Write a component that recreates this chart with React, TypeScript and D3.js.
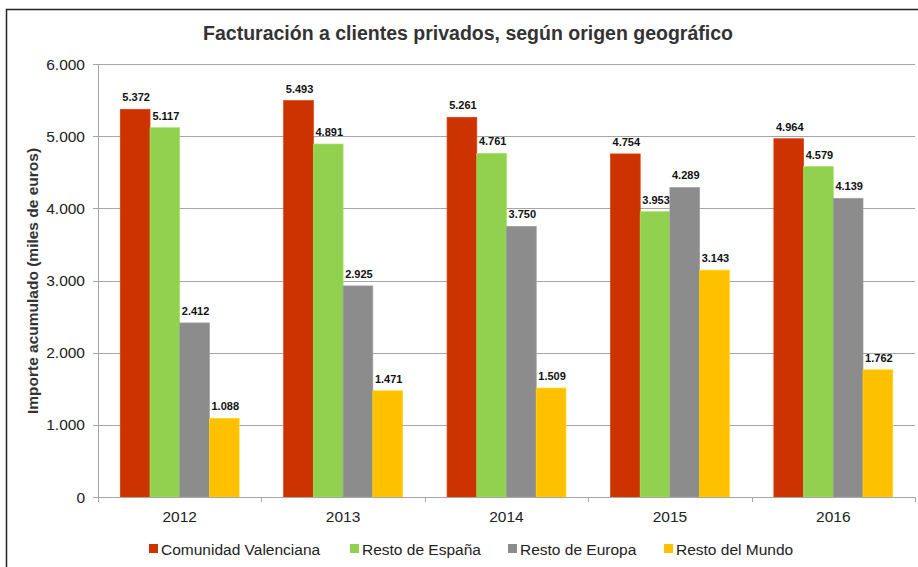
import * as d3 from "d3";

const years = ["2012", "2013", "2014", "2015", "2016"];
const seriesNames = [
  "Comunidad Valenciana",
  "Resto de España",
  "Resto de Europa",
  "Resto del Mundo",
];
const comunidadValenciana = [5372, 5493, 5261, 4754, 4964];
const restoEspana = [5117, 4891, 4761, 3953, 4579];
const restoEuropa = [2412, 2925, 3750, 4289, 4139];
const restoMundo = [1088, 1471, 1509, 3143, 1762];
const yTicks = [0, 1000, 2000, 3000, 4000, 5000, 6000];

const colors = ["#CC3300", "#92D050", "#8C8C8C", "#FFC000"];
const series = [comunidadValenciana, restoEspana, restoEuropa, restoMundo];

const fmt = (v: number) => d3.format(",")(v).replace(/,/g, ".");

const App = () => {
  const width = 918;
  const height = 567;
  const left = 98;
  const right = 915;
  const top = 64;
  const bottom = 497;

  const x = d3.scaleBand<string>().domain(years).range([left, right]).paddingInner(0).paddingOuter(0);
  const inner = d3
    .scaleBand<number>()
    .domain(d3.range(series.length))
    .range([0, x.bandwidth()])
    .paddingOuter(0.75)
    .paddingInner(0);
  const y = d3.scaleLinear().domain([0, 6000]).range([bottom, top]);

  const font = "'Liberation Sans', Arial, sans-serif";
  const legendX = [149, 350, 508, 664];

  return (
    <svg
      width={width}
      height={height}
      style={{ position: "absolute", left: 0, top: 0, fontFamily: font }}
    >
      <rect x={0} y={0} width={width} height={height} fill="#fff" />
      <rect x={6.5} y={9.5} width={width + 10} height={height + 10} fill="none" stroke="#222" strokeWidth={1.5} />
      <text x={468} y={40} textAnchor="middle" fontSize={19.5} fontWeight="bold" fill="#333">
        Facturación a clientes privados, según origen geográfico
      </text>

      {yTicks.map((t) => (
        <g key={t}>
          {t > 0 && (
            <line x1={left} x2={right} y1={Math.round(y(t)) + 0.5} y2={Math.round(y(t)) + 0.5} stroke="#a6a6a6" />
          )}
          <line x1={left - 5} x2={left} y1={Math.round(y(t)) + 0.5} y2={Math.round(y(t)) + 0.5} stroke="#a6a6a6" />
          <text x={85} y={y(t) + 5.5} textAnchor="end" fontSize={15.5} fill="#222">
            {fmt(t)}
          </text>
        </g>
      ))}

      {years.map((yr, i) =>
        series.map((s, j) => {
          const bx = (x(yr) as number) + (inner(j) as number);
          const v = s[i];
          return (
            <g key={`${yr}-${j}`}>
              <rect
                x={bx}
                y={y(v)}
                width={inner.bandwidth()}
                height={bottom - y(v)}
                fill={colors[j]}
                stroke={d3.color(colors[j])!.brighter(0.3).toString()}
                strokeWidth={0.7}
              />
              <text
                x={bx + inner.bandwidth() / 2 + 1}
                y={y(v) - 8}
                textAnchor="middle"
                fontSize={11}
                fontWeight="bold"
                fill="#111"
              >
                {fmt(v)}
              </text>
            </g>
          );
        })
      )}

      <line x1={left + 0.5} x2={left + 0.5} y1={top} y2={bottom} stroke="#a6a6a6" />
      <line x1={left} x2={right} y1={bottom + 0.5} y2={bottom + 0.5} stroke="#a6a6a6" />
      {d3.range(years.length + 1).map((k) => {
        const tx = Math.round(left + k * x.bandwidth()) + 0.5;
        return <line key={k} x1={tx} x2={tx} y1={bottom} y2={bottom + 5} stroke="#a6a6a6" />;
      })}
      {years.map((yr) => (
        <text
          key={yr}
          x={(x(yr) as number) + x.bandwidth() / 2}
          y={522}
          textAnchor="middle"
          fontSize={15.5}
          fill="#222"
        >
          {yr}
        </text>
      ))}

      <text
        transform="translate(38,281) rotate(-90)"
        textAnchor="middle"
        fontSize={15.5}
        fontWeight="bold"
        fill="#333"
      >
        Importe acumulado (miles de euros)
      </text>

      {seriesNames.map((n, j) => (
        <g key={n}>
          <rect x={legendX[j]} y={544} width={9} height={9} fill={colors[j]} />
          <text x={legendX[j] + 12} y={555} fontSize={15.5} fill="#222">
            {n}
          </text>
        </g>
      ))}
    </svg>
  );
};

export default App;
